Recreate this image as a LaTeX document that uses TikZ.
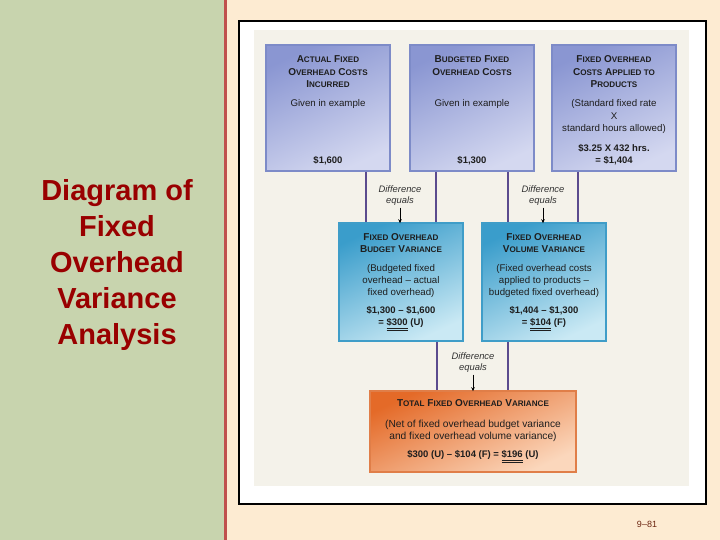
\documentclass[tikz,border=0pt]{standalone}
\usepackage{fontspec}
\setmainfont{Liberation Sans}
\usetikzlibrary{arrows.meta}
\newcommand\smc[1]{{\fontsize{8.1}{8.1}\selectfont #1}}
\definecolor{leftgreen}{HTML}{C8D4AE}
\definecolor{cream}{HTML}{FDEBD2}
\definecolor{redline}{HTML}{C0504D}
\definecolor{titlered}{HTML}{990000}
\definecolor{innerbg}{HTML}{F4F2EA}
\definecolor{topA}{HTML}{8A96D2}
\definecolor{topB}{HTML}{D4D8F0}
\definecolor{topE}{HTML}{7D8BC8}
\definecolor{midA}{HTML}{3A9DCB}
\definecolor{midB}{HTML}{CAE9F4}
\definecolor{midE}{HTML}{3F9DC8}
\definecolor{botA}{HTML}{E46A28}
\definecolor{botB}{HTML}{FBD7BC}
\definecolor{botE}{HTML}{E07E48}
\definecolor{connector}{HTML}{5B4B8E}
\definecolor{textc}{HTML}{1E1E1E}
\definecolor{pagebrown}{HTML}{6B2410}
\tikzset{
  topbox/.style={draw=topE, line width=1.5pt, top color=topA, bottom color=topB, shading angle=25,
    minimum width=124pt, minimum height=126pt, inner sep=0pt},
  midbox/.style={draw=midE, line width=1.5pt, top color=midA, bottom color=midB, shading angle=25,
    minimum width=124pt, minimum height=118pt, inner sep=0pt},
  botbox/.style={draw=botE, line width=1.5pt, top color=botA, bottom color=botB, shading angle=25,
    minimum width=206pt, minimum height=81pt, inner sep=0pt},
  hd/.style={font=\fontsize{10}{12.5}\selectfont\bfseries, align=center, inner sep=0pt, text=textc},
  bd/.style={font=\fontsize{9.7}{12.4}\selectfont, align=center, inner sep=0pt, text=textc},
  bdw/.style={font=\fontsize{10.2}{12}\selectfont, align=center, inner sep=0pt, text=textc},
  am/.style={font=\fontsize{9.5}{12.5}\selectfont\bfseries, align=center, inner sep=0pt, text=textc},
  diff/.style={font=\fontsize{9.4}{11}\selectfont\itshape, align=center, inner sep=0pt, text=black!80},
  conn/.style={draw=connector, line width=1.4pt},
  arr/.style={-{Stealth[length=4pt,width=3.5pt]}, line width=0.8pt, black}
}
\begin{document}
\begin{tikzpicture}[x=1pt,y=-1pt]
\useasboundingbox (0,0) rectangle (720,540);
% backgrounds
\fill[cream] (0,0) rectangle (720,540);
\fill[leftgreen] (0,0) rectangle (224,540);
\fill[redline] (224,0) rectangle (226.5,540);
\draw[line width=2pt, fill=white] (239,21) rectangle (706,504);
\fill[innerbg] (254,30) rectangle (689,486);
% title
\node[font=\fontsize{29}{36}\selectfont\bfseries, text=titlered, align=center] (title) at (117,265)
  {Diagram of\\Fixed\\Overhead\\Variance\\Analysis};
\node[font=\fontsize{9}{9}\selectfont, text=pagebrown] (pg) at (647,524) {9--81};
% connector x positions
\coordinate (c1) at (366,0);
\coordinate (c2) at (436,0);
\coordinate (c3) at (508,0);
\coordinate (c4) at (578,0);
\coordinate (c5) at (437,0);
\coordinate (c6) at (508,0);
% boxes
\node[topbox] (t1) at (328,108) {};
\node[topbox] (t2) at (472,108) {};
\node[topbox] (t3) at (614,108) {};
\node[midbox] (m1) at (401,282) {};
\node[midbox] (m2) at (544,282) {};
\node[botbox] (bt) at (473,431.5) {};
% connectors
\draw[conn] (t1.south -| c1) -- (m1.north -| c1);
\draw[conn] (t2.south -| c2) -- (m1.north -| c2);
\draw[conn] (t2.south -| c3) -- (m2.north -| c3);
\draw[conn] (t3.south -| c4) -- (m2.north -| c4);
\draw[conn] (m1.south -| c5) -- (bt.north -| c5);
\draw[conn] (m2.south -| c6) -- (bt.north -| c6);
% difference labels
\node[diff] (d1) at (400,195.5) {Difference\\equals};
\node[diff] (d2) at (543,195.5) {Difference\\equals};
\node[diff] (d3) at (473,362.5) {Difference\\equals};
\draw[arr] ([yshift=-2pt]d1.south) -- ([yshift=-1pt]m1.north -| d1.south);
\draw[arr] ([yshift=-2pt]d2.south) -- ([yshift=-1pt]m2.north -| d2.south);
\draw[arr] ([yshift=-2pt]d3.south) -- ([yshift=-1pt]bt.north -| d3.south);
% top box texts
\node[hd] (t1h) at (328,72) {A\smc{CTUAL} F\smc{IXED}\\O\smc{VERHEAD} C\smc{OSTS}\\I\smc{NCURRED}};
\node[bd] (t1b) at (328,104) {Given in example};
\node[am] (t1a) at (328,160.5) {\$1,600};
\node[hd] (t2h) at (472,65.7) {B\smc{UDGETED} F\smc{IXED}\\O\smc{VERHEAD} C\smc{OSTS}};
\node[bd] (t2b) at (472,104) {Given in example};
\node[am] (t2a) at (472,160.5) {\$1,300};
\node[hd] (t3h) at (614,72) {F\smc{IXED} O\smc{VERHEAD}\\C\smc{OSTS} A\smc{PPLIED TO}\\P\smc{RODUCTS}};
\node[bd] (t3b) at (614,116.5) {(Standard fixed rate\\X\\standard hours allowed)};
\node[am] (t3a) at (614,154.5) {\$3.25 X 432 hrs.\\= \$1,404};
% middle box texts
\node[hd] (m1h) at (401,243) {F\smc{IXED} O\smc{VERHEAD}\\B\smc{UDGET} V\smc{ARIANCE}};
\node[bd] (m1b) at (401,281) {(Budgeted fixed\\overhead -- actual\\fixed overhead)};
\node[am] (m1a) at (401,318.5) {\$1,300 -- \$1,600\\= \underline{\underline{\$300}} (U)};
\node[hd] (m2h) at (544,243) {F\smc{IXED} O\smc{VERHEAD}\\V\smc{OLUME} V\smc{ARIANCE}};
\node[bd] (m2b) at (544,281) {(Fixed overhead costs\\applied to products --\\budgeted fixed overhead)};
\node[am] (m2a) at (544,318.5) {\$1,404 -- \$1,300\\= \underline{\underline{\$104}} (F)};
% bottom box texts
\node[hd] (bth) at (473,403) {T\smc{OTAL} F\smc{IXED} O\smc{VERHEAD} V\smc{ARIANCE}};
\node[bdw] (btb) at (473,430.5) {(Net of fixed overhead budget variance\\and fixed overhead volume variance)};
\node[am] (bta) at (473,456.5) {\$300 (U) -- \$104 (F) = \underline{\underline{\$196}} (U)};
\end{tikzpicture}
\end{document}
